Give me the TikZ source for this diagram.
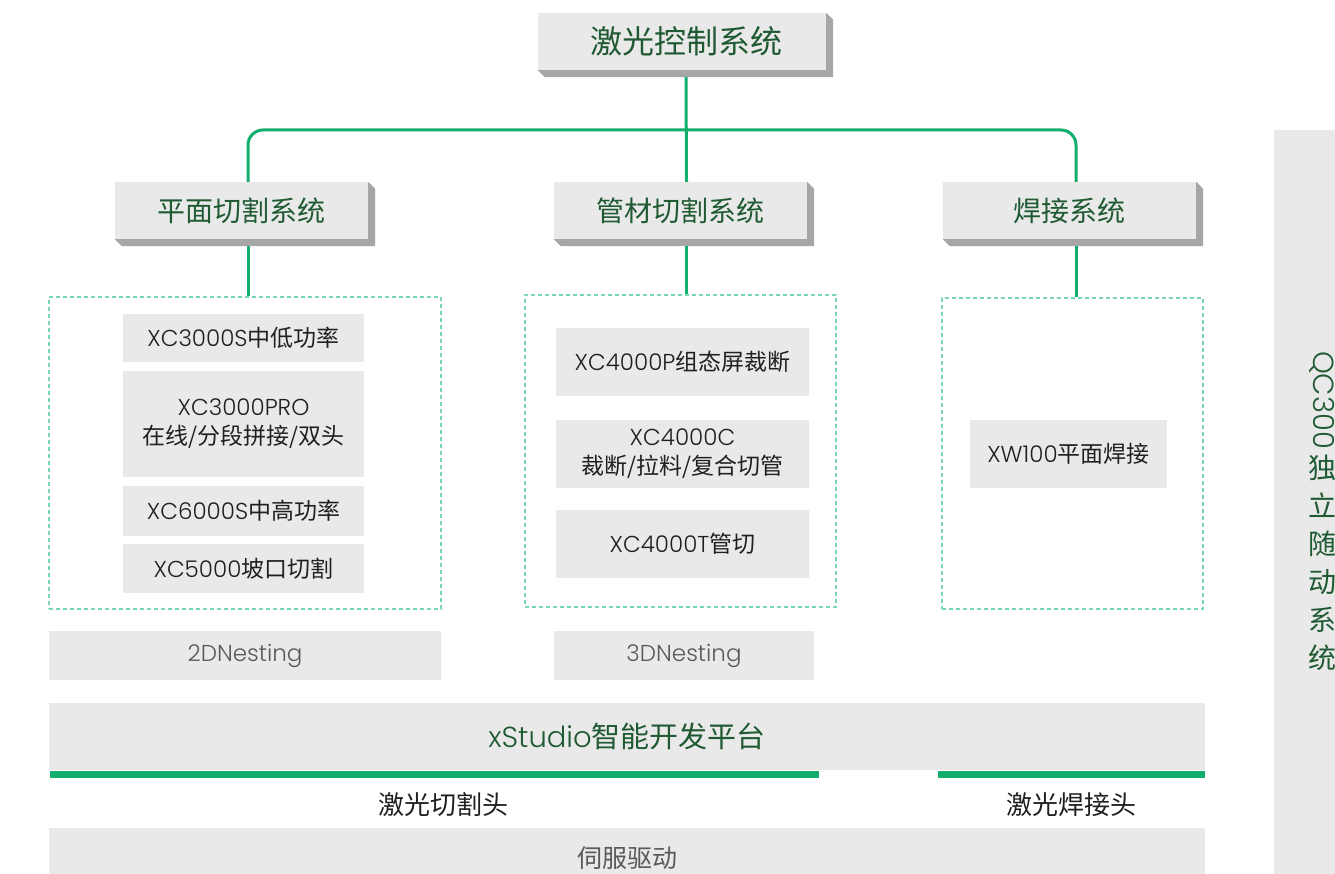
\documentclass[tikz,border=0pt]{standalone}
\usepackage{fontspec}
\setmainfont{Poppins}[UprightFont=* Light]
\newfontfamily\cjk{Noto Sans CJK SC}
\usetikzlibrary{positioning}
\definecolor{boxgray}{HTML}{E9E9E9}
\definecolor{shadowgray}{HTML}{A6A6A6}
\definecolor{linegreen}{HTML}{12AE6E}
\definecolor{dashgreen}{HTML}{7AD8B0}
\definecolor{titlegreen}{HTML}{1F5A32}
\definecolor{textdark}{HTML}{231F1F}
\definecolor{nestgray}{HTML}{595959}
\newcommand{\ZH}[1]{{\cjk #1}}

\begin{document}
\begin{tikzpicture}[x=1pt,y=-1pt,
  head/.style={fill=boxgray, text=titlegreen, inner sep=0pt, minimum width=253pt, minimum height=57pt, font=\cjk\fontsize{28}{34}\selectfont},
  item/.style={fill=boxgray, text=textdark, inner sep=0pt, align=center, font=\fontsize{23}{29}\selectfont},
  frame/.style={draw=dashgreen, line width=2.5pt, dash pattern=on 4pt off 3pt, inner sep=0pt},
  plate/.style={fill=boxgray, inner sep=0pt},
  link/.style={draw=linegreen, line width=3pt},
  bar/.style={fill=linegreen, inner sep=0pt, minimum height=7pt}]

  \useasboundingbox (0,0) rectangle (1335,874);
  \fill[white] (0,0) rectangle (1335,874);

  % system heads
  \node[head, minimum width=288pt, font=\cjk\fontsize{32}{36}\selectfont] (ctrl) at (682,41.5) {\hspace{8pt}激光控制系统};
  \node[head] (flat) at (241.5,210.5) {平面切割系统};
  \node[head] (tube) at (680.5,210.5) {管材切割系统};
  \node[head] (weld) at (1069.5,210.5) {焊接系统};

  \foreach \n in {ctrl,flat,tube,weld}
    \fill[shadowgray] (\n.south west) -- ([shift={(7,7)}]\n.south west) -- ([shift={(7,7)}]\n.south east)
      -- ([shift={(7,7)}]\n.north east) -- (\n.north east) -- (\n.south east) -- cycle;

  % product groups
  \node[frame, minimum width=392pt, minimum height=312pt] (fbox) at (245,453) {};
  \node[frame, minimum width=311pt, minimum height=312pt] (tbox) at (680.5,451) {};
  \node[frame, minimum width=261pt, minimum height=311pt] (wbox) at (1072.5,453.5) {};

  \node[item, minimum width=241pt, minimum height=48pt] (f1) at (243.5,338) {XC3000S\ZH{中低功率}};
  \node[item, minimum width=241pt, minimum height=106pt] (f2) at (243.5,424) {XC3000PRO\\\ZH{在线/分段拼接/双头}};
  \node[item, minimum width=241pt, minimum height=50pt] (f3) at (243.5,511) {XC6000S\ZH{中高功率}};
  \node[item, minimum width=241pt, minimum height=49pt] (f4) at (243.5,568.5) {XC5000\ZH{坡口切割}};

  \node[item, minimum width=253pt, minimum height=68pt] (t1) at (682.5,362) {XC4000P\ZH{组态屏裁断}};
  \node[item, minimum width=253pt, minimum height=68pt] (t2) at (682.5,454) {XC4000C\\\ZH{裁断/拉料/复合切管}};
  \node[item, minimum width=253pt, minimum height=68pt] (t3) at (682.5,544) {XC4000T\ZH{管切}};

  \node[item, minimum width=197pt, minimum height=68pt] (w1) at (1068.5,454) {XW100\ZH{平面焊接}};

  \node[item, text=nestgray, minimum width=392pt, minimum height=49pt] (nest2) at (245,655.5) {\raisebox{-4pt}{2DNesting}};
  \node[item, text=nestgray, minimum width=260pt, minimum height=49pt] (nest3) at (684,655.5) {\raisebox{-4pt}{3DNesting}};

  % platform and hardware
  \node[item, text=titlegreen, font=\fontsize{29}{34}\selectfont, minimum width=1156pt, minimum height=67pt] (studio) at (627,736.5) {xStudio\ZH{智能开发平台}};
  \node[bar, minimum width=769pt] (cutbar) at (434.5,774.5) {};
  \node[bar, minimum width=267pt] (weldbar) at (1071.5,774.5) {};
  \node[text=textdark, font=\cjk\fontsize{26}{30}\selectfont] (cuthead) at (443,805) {激光切割头};
  \node[text=textdark, font=\cjk\fontsize{26}{30}\selectfont] (weldhead) at (1071,805) {激光焊接头};
  \node[item, text=nestgray, font=\cjk\fontsize{25}{30}\selectfont, minimum width=1156pt, minimum height=60pt] (servo) at (627,858) {伺服驱动};

  % follow-up system
  \node[plate, minimum width=80pt, minimum height=800pt] (qcbar) at (1314,530) {};
  \node[rotate=-90, inner sep=0pt, text=titlegreen, font=\fontsize{29}{34}\selectfont] (qc) at (1322,400) {QC300};
  \node[anchor=north, inner sep=0pt, align=center, text=titlegreen, font=\cjk\fontsize{28}{38}\selectfont] (qcname) at ([yshift=-6pt]qc.east) {独\\立\\随\\动\\系\\统};

  % links
  \coordinate (hub) at (686,130);
  \draw[link] ([shift={(4,7)}]ctrl.south) -- ([xshift=6]tube.north);
  \draw[link, rounded corners=15pt] ([xshift=6.5]flat.north) |- (hub) -| ([xshift=6.5]weld.north);
  \draw[link] ([shift={(6.5,7)}]flat.south) -- ([xshift=6.5]flat.south |- fbox.north);
  \draw[link] ([shift={(6,7)}]tube.south) -- ([xshift=6]tube.south |- tbox.north);
  \draw[link] ([shift={(6.5,7)}]weld.south) -- ([xshift=6.5]weld.south |- wbox.north);
\end{tikzpicture}
\end{document}
